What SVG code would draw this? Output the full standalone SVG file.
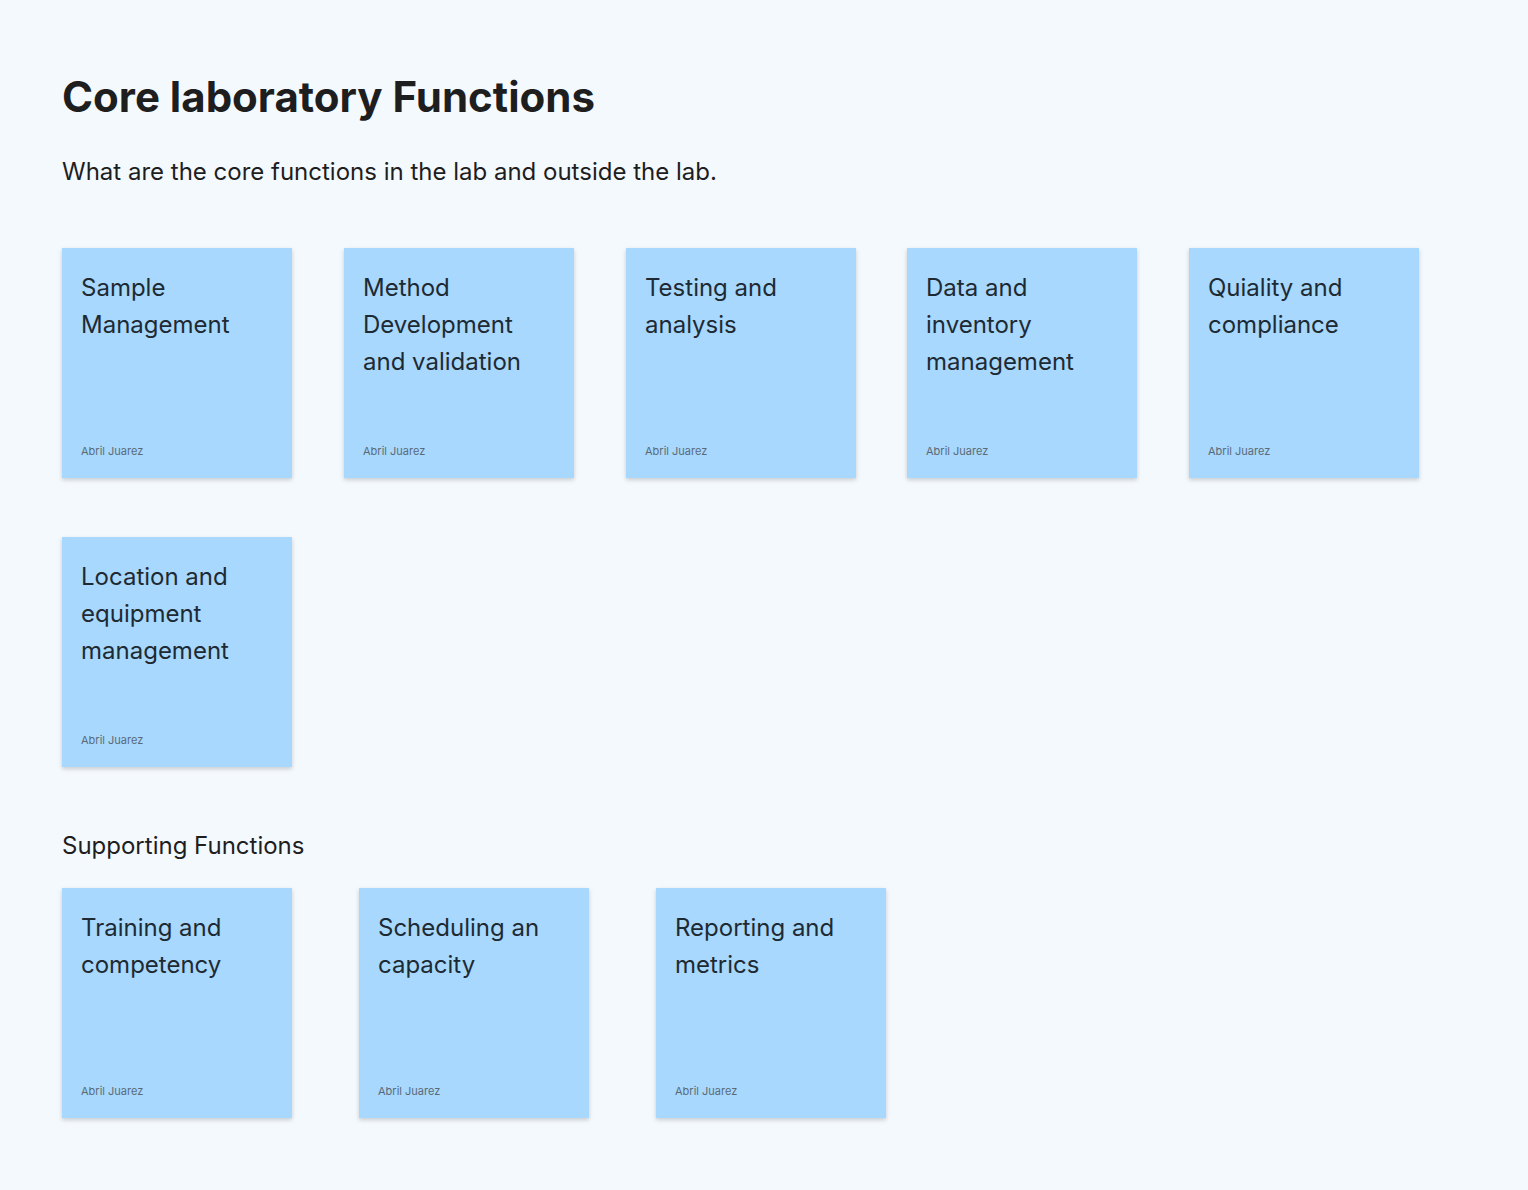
<svg xmlns="http://www.w3.org/2000/svg" width="1528" height="1190" viewBox="0 0 1528 1190">
<defs>
<filter id="sh" x="-10%" y="-10%" width="130%" height="130%"><feDropShadow dx="0" dy="2" stdDeviation="2" flood-color="#000" flood-opacity="0.18"/></filter>
<style>
.n{fill:#a8d8fd;filter:url(#sh)}
.t{font-family:Inter,"Noto Sans",sans-serif;font-size:24px;fill:#1e2a33}
.a{font-family:Inter,"Noto Sans",sans-serif;font-size:11px;fill:#5a6a78}
.h{font-family:Inter,"Noto Sans",sans-serif;fill:#1e1e1e}
</style>
</defs>
<rect width="1528" height="1190" fill="#f4f9fe"/>
<text class="h" x="62" y="112" font-size="42" font-weight="700">Core laboratory Functions</text>
<text class="h" x="62" y="180" font-size="24">What are the core functions in the lab and outside the lab.</text>
<text class="h" x="62" y="854" font-size="24">Supporting Functions</text>
<g id="n1"><rect class="n" x="62" y="248" width="230" height="230"/><text class="t" x="81" y="296">Sample<tspan x="81" dy="37">Management</tspan></text><text class="a" x="81" y="455">Abril Juarez</text></g>
<g id="n2"><rect class="n" x="344" y="248" width="230" height="230"/><text class="t" x="363" y="296">Method<tspan x="363" dy="37">Development</tspan><tspan x="363" dy="37">and validation</tspan></text><text class="a" x="363" y="455">Abril Juarez</text></g>
<g id="n3"><rect class="n" x="626" y="248" width="230" height="230"/><text class="t" x="645" y="296">Testing and<tspan x="645" dy="37">analysis</tspan></text><text class="a" x="645" y="455">Abril Juarez</text></g>
<g id="n4"><rect class="n" x="907" y="248" width="230" height="230"/><text class="t" x="926" y="296">Data and<tspan x="926" dy="37">inventory</tspan><tspan x="926" dy="37">management</tspan></text><text class="a" x="926" y="455">Abril Juarez</text></g>
<g id="n5"><rect class="n" x="1189" y="248" width="230" height="230"/><text class="t" x="1208" y="296">Quiality and<tspan x="1208" dy="37">compliance</tspan></text><text class="a" x="1208" y="455">Abril Juarez</text></g>
<g id="n6"><rect class="n" x="62" y="537" width="230" height="230"/><text class="t" x="81" y="585">Location and<tspan x="81" dy="37">equipment</tspan><tspan x="81" dy="37">management</tspan></text><text class="a" x="81" y="744">Abril Juarez</text></g>
<g id="n7"><rect class="n" x="62" y="888" width="230" height="230"/><text class="t" x="81" y="936">Training and<tspan x="81" dy="37">competency</tspan></text><text class="a" x="81" y="1095">Abril Juarez</text></g>
<g id="n8"><rect class="n" x="359" y="888" width="230" height="230"/><text class="t" x="378" y="936">Scheduling an<tspan x="378" dy="37">capacity</tspan></text><text class="a" x="378" y="1095">Abril Juarez</text></g>
<g id="n9"><rect class="n" x="656" y="888" width="230" height="230"/><text class="t" x="675" y="936">Reporting and<tspan x="675" dy="37">metrics</tspan></text><text class="a" x="675" y="1095">Abril Juarez</text></g>
<g id="connectors"/>
</svg>
